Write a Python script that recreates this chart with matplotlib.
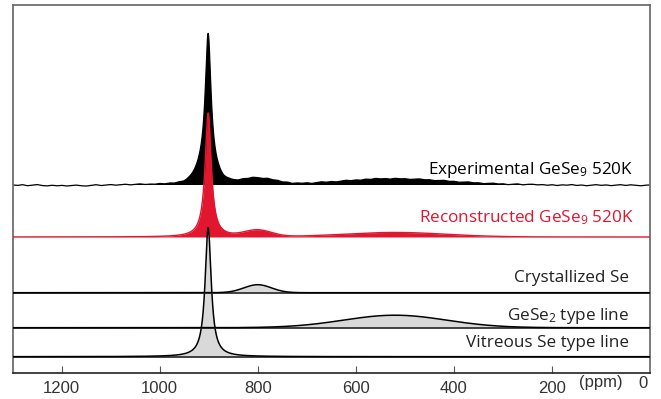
import numpy as np
import matplotlib as mpl
import matplotlib.pyplot as plt

mpl.rcParams.update({
    'font.family': ['Open Sans', 'DejaVu Sans'],
    'mathtext.fontset': 'custom',
    'mathtext.rm': 'Open Sans',
    'mathtext.it': 'Open Sans',
})

# ---- data (ppm, heights in px-like units) ----
# component lines: vitreous Se (Lorentzian), crystallized Se, GeSe2 (Gaussian)
VIT_CENTER, VIT_HEIGHT, VIT_HWHM = 901, 129, 7.5
CRY_CENTER, CRY_HEIGHT, CRY_SIGMA = 800, 8.0, 28
GES_CENTER, GES_HEIGHT, GES_SIGMA = 520, 12.5, 105

# reconstructed spectrum: heights of the three contributions
REC_HEIGHTS = [124, 6.5, 4.5]

# experimental spectrum: sharp line + broad foot + side bumps
EXP_SHARP = (901, 135, 7.0)
EXP_FOOT = (905, 17, 18)
EXP_BUMPS = [(800, 5.5, 35), (520, 5.5, 110)]

# baseline wiggle of the experimental trace, every 10 ppm from 1300 to 0
exp_ppm = np.arange(1300, -1, -10)
exp_resid = [
    0.0, -0.5, 0.3, -0.8, -0.2, 0.4, -0.6, -1.0, -0.3, -0.9,
    -0.4, -1.1, -0.6, -0.2, -0.9, -1.2, -0.5, 0.2, -0.7, -0.3,
    0.3, -0.4, 0.1, 0.6, -0.2, 0.4, 0.8, 0.1, 0.5, 0.2,
    0.9, 0.3, 1.0, 0.5, 1.3, 0.8, 1.5, 1.0, 0.6, 0.0,
    0.0, 0.5, 1.2, 0.6, 1.4, 0.9, 0.3, 1.1, 0.7, 1.5,
    1.0, 0.4, 1.3, 0.6, 1.1, 0.2, 0.8, -0.2, 0.5, 0.1,
    0.6, -0.3, 0.4, 0.9, 0.2, 0.7, -0.1, 0.5, 1.0, 0.3,
    0.8, 0.2, 1.1, 0.5, 1.4, 0.7, 1.0, 0.3, 1.2, 0.6,
    0.9, 0.2, 0.7, 1.1, 0.4, 0.8, 0.1, 0.6, 1.0, 0.3,
    0.7, 0.0, 0.5, 0.9, 0.2, 0.6, -0.1, 0.4, 0.8, 0.1,
    0.5, -0.3, 0.3, 0.7, -0.2, 0.4, 0.6, -0.1, 0.3, -0.4,
    0.2, -0.6, 0.1, -0.3, 0.4, -0.5, 0.0, -0.8, -0.2, 0.3,
    -0.4, 0.1, -0.7, -0.1, 0.3, -0.5, 0.2, -0.3, -0.9, -0.2,
    0.0,
]

# vertical offsets of each trace
BASE_EXP, BASE_REC, BASE_CRY, BASE_GES, BASE_VIT = 188, 136, 80.3, 45.3, 16.3

labels = ['Experimental GeSe$_9$ 520K', 'Reconstructed GeSe$_9$ 520K',
          'Crystallized Se', 'GeSe$_2$ type line', 'Vitreous Se type line']
xticks = [1200, 1000, 800, 600, 400, 200]

RED = '#E1162F'
GREY_FILL = '#d9d9d9'
TICK_FONT = ['Liberation Sans Narrow', 'Liberation Sans', 'DejaVu Sans']


def lorentz(x, c, h, g):
    return h * g**2 / (g**2 + (x - c)**2)


def gauss(x, c, h, s):
    return h * np.exp(-(x - c)**2 / (2 * s**2))


x = np.linspace(1300, 0, 5201)

vit = lorentz(x, VIT_CENTER, VIT_HEIGHT, VIT_HWHM)
cry = gauss(x, CRY_CENTER, CRY_HEIGHT, CRY_SIGMA)
ges = gauss(x, GES_CENTER, GES_HEIGHT, GES_SIGMA)
rec = (vit * REC_HEIGHTS[0] / VIT_HEIGHT + cry * REC_HEIGHTS[1] / CRY_HEIGHT
       + ges * REC_HEIGHTS[2] / GES_HEIGHT)

exp = lorentz(x, *EXP_SHARP) + gauss(x, *EXP_FOOT)
for b in EXP_BUMPS:
    exp = exp + gauss(x, *b)
exp = exp + np.interp(x, exp_ppm[::-1], np.array(exp_resid)[::-1])

fig = plt.figure(figsize=(6.61, 3.99), dpi=100)
ax = fig.add_axes([12.5 / 661, 1 - 373 / 399, (650 - 12.5) / 661, (373 - 5) / 399])

# experimental
ye = BASE_EXP + exp
ax.fill_between(x, BASE_EXP, ye, where=ye > BASE_EXP, color='black', lw=0, zorder=1)
ax.plot(x, ye, color='black', lw=0.9, zorder=2)

# reconstructed
ax.fill_between(x, BASE_REC, BASE_REC + rec, color=RED, lw=0, zorder=3)
ax.plot(x, BASE_REC + rec, color=RED, lw=1.0, zorder=4)

# components
for base, comp, z in [(BASE_VIT, vit, 5), (BASE_GES, ges, 8), (BASE_CRY, cry, 11)]:
    ax.fill_between(x, base, base + comp, color=GREY_FILL, lw=0, zorder=z)
    ax.axhline(base, color='#333333', lw=1.3, zorder=z + 1)
    ax.plot(x, base + comp, color='black', lw=1.1, zorder=z + 2)

# labels
label_pos = [(34, 203, 'black'), (34, 155, RED), (43, 95, '#222222'),
             (43, 57, '#222222'), (43, 30, '#222222')]
for (px, py, col), txt in zip(label_pos, labels):
    ax.text(px, py, txt, ha='right', va='center', fontsize=12.3, color=col, zorder=20)

ax.set_xlim(1300, 0)
ax.set_ylim(0, 368)
ax.set_yticks([])
ax.set_xticks(xticks)
ax.set_xticklabels([str(t) for t in xticks], family=TICK_FONT,
                   fontsize=12, color='#333333')
ax.tick_params(axis='x', direction='in', length=5, width=0.8, color='#555555', pad=6)
ax.text(100, -10, '(ppm)', ha='center', va='center', fontsize=12, color='#333333',
        family=TICK_FONT, clip_on=False)
ax.text(14, -10, '0', ha='center', va='center', fontsize=12, color='#333333',
        family=TICK_FONT, clip_on=False)

for side in ['top', 'left', 'right']:
    ax.spines[side].set_color('#707070')
    ax.spines[side].set_linewidth(1.3)
ax.spines['bottom'].set_color('#222222')
ax.spines['bottom'].set_linewidth(1.2)

fig.savefig('out.png', dpi=100)
